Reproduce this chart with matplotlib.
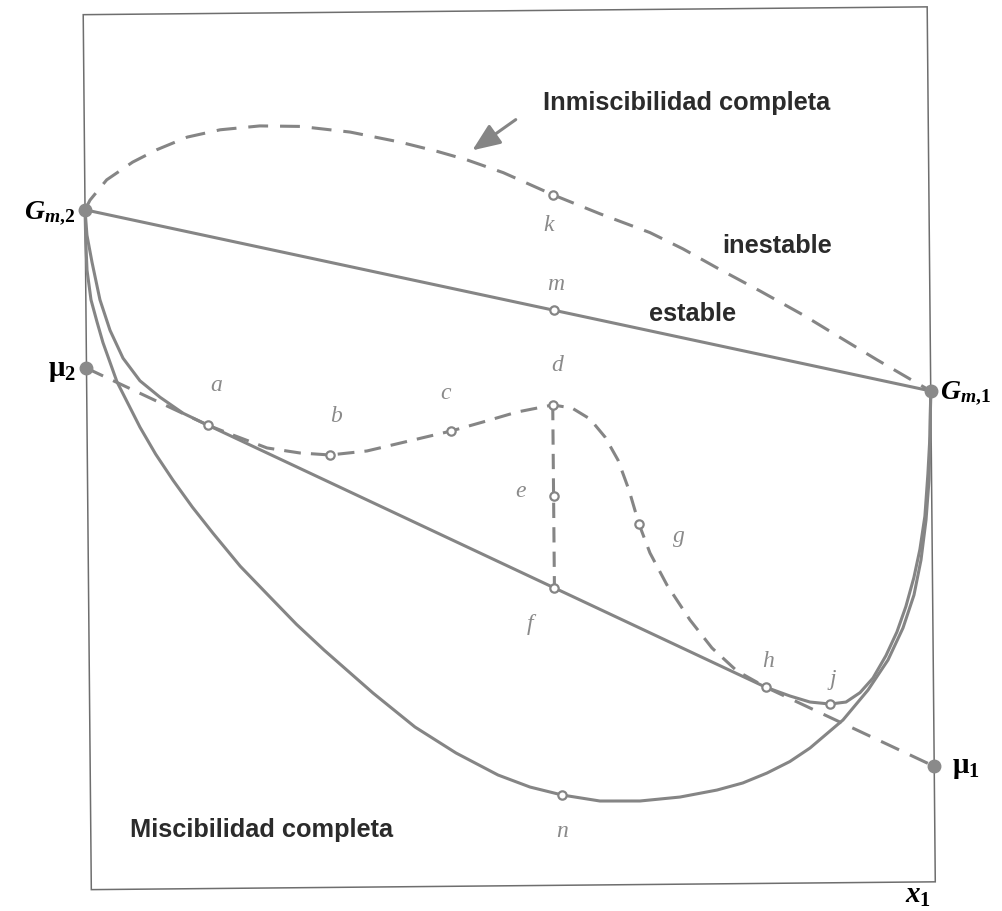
import numpy as np
import matplotlib
matplotlib.use("Agg")
import matplotlib.pyplot as plt
from matplotlib.patches import Rectangle, FancyArrowPatch
from matplotlib.transforms import Affine2D

plt.rcParams["mathtext.fontset"] = "custom"
plt.rcParams["mathtext.it"] = "Liberation Serif:bold:italic"
plt.rcParams["mathtext.rm"] = "Liberation Serif:bold"
plt.rcParams["mathtext.bf"] = "Liberation Serif:bold"

# pure components (x1 = 0 -> G_m,2 ; x1 = 1 -> G_m,1)
x_pure = [0.0, 1.0]
g_pure = [0.777, 0.561]
# chemical potentials = intercepts of the common tangent
mu_pure = [0.596, 0.132]

# "Inmiscibilidad completa" curve (dashed, above the tie line)
inmisc_x = [0.0, 0.006, 0.026, 0.057, 0.086, 0.122, 0.161, 0.208, 0.256, 0.315, 0.374,
            0.418, 0.453, 0.496, 0.555, 0.610, 0.669, 0.708, 0.748, 0.799, 0.850,
            0.890, 0.937, 0.984, 1.0]
inmisc_y = [0.777, 0.788, 0.811, 0.831, 0.845, 0.859, 0.867, 0.871, 0.870, 0.863, 0.851,
            0.840, 0.830, 0.815, 0.789, 0.767, 0.745, 0.726, 0.704, 0.677, 0.649,
            0.625, 0.597, 0.570, 0.561]

# "Miscibilidad completa" curve (solid, lowest)
misc_x = [0.0, 0.0005, 0.0017, 0.0061, 0.0129, 0.0198, 0.0360, 0.0627, 0.0810, 0.1013,
          0.1240, 0.1481, 0.1800, 0.2149, 0.2460, 0.2783, 0.3359, 0.3853, 0.4336, 0.4831,
          0.5209, 0.5587, 0.6036, 0.6510, 0.6985, 0.7424, 0.7730, 0.8018, 0.8290, 0.8530,
          0.8924, 0.9224, 0.9464, 0.9645, 0.9779, 0.9866, 0.9930, 0.9970, 0.9986, 1.0]
misc_y = [0.777, 0.742, 0.708, 0.674, 0.649, 0.625, 0.580, 0.528, 0.497, 0.467,
          0.436, 0.406, 0.368, 0.3325, 0.301, 0.2714, 0.2217, 0.1824, 0.1523, 0.1267,
          0.1126, 0.1032, 0.0959, 0.0955, 0.0996, 0.1072, 0.1150, 0.1261, 0.1390, 0.1542,
          0.1859, 0.2199, 0.2540, 0.2904, 0.3280, 0.3679, 0.4136, 0.4593, 0.5050, 0.561]

# partial miscibility curve: stable branch G_m,2 -> a
part_left_x = [0.0, 0.002, 0.0077, 0.0167, 0.0283, 0.0434, 0.0632, 0.0868, 0.1139, 0.1433]
part_left_y = [0.777, 0.748, 0.717, 0.674, 0.639, 0.607, 0.581, 0.562, 0.5435, 0.5295]
# metastable / unstable part a -> h (dashed)
part_mid_x = [0.1433, 0.1728, 0.2130, 0.2520, 0.2876, 0.3314, 0.3706, 0.4312, 0.4692,
              0.5096, 0.552, 0.5748, 0.5960, 0.6136, 0.6287, 0.6414, 0.6529, 0.6656,
              0.6854, 0.7123, 0.7380, 0.7674, 0.8016]
part_mid_y = [0.5295, 0.518, 0.5029, 0.4968, 0.4942, 0.4984, 0.507, 0.5203, 0.5303,
              0.5413, 0.549, 0.5453, 0.5326, 0.5118, 0.4854, 0.4510, 0.412, 0.3788,
              0.3420, 0.3018, 0.2696, 0.2430, 0.2241]
# stable branch h -> G_m,1
part_right_x = [0.8016, 0.8299, 0.8535, 0.8772, 0.8962, 0.9129, 0.9284, 0.9440, 0.9573,
                0.9682, 0.9780, 0.9854, 0.9917, 0.9957, 0.9986, 1.0]
part_right_y = [0.2241, 0.2139, 0.2068, 0.2043, 0.2064, 0.2170, 0.2335, 0.2590, 0.2860,
                0.3150, 0.3480, 0.3800, 0.418, 0.466, 0.510, 0.561]

# labelled states
pt_names = ["a", "b", "c", "d", "e", "f", "g", "h", "j", "k", "m", "n"]
pt_x = [0.1433, 0.2876, 0.4312, 0.552, 0.552, 0.552, 0.6529, 0.8016, 0.8772, 0.555, 0.555, 0.5587]
pt_y = [0.5295, 0.4942, 0.5203, 0.549, 0.4445, 0.3399, 0.412, 0.2241, 0.2043, 0.789, 0.657, 0.1032]
lab_x = [0.1532, 0.2951, 0.4256, 0.5575, 0.5134, 0.5226, 0.7001, 0.8042, 0.8811, 0.5496, 0.5572, 0.5583]
lab_y = [0.5743, 0.5376, 0.5627, 0.5935, 0.4499, 0.2978, 0.3968, 0.2530, 0.2328, 0.7536, 0.6861, 0.0609]

# arrow pointing at the inmiscibility curve (tail, head)
arrow_x = [0.514, 0.4568]
arrow_y = [0.8773, 0.8390]

region_text = ["Inmiscibilidad completa", "inestable", "estable", "Miscibilidad completa"]
region_x = [0.7144, 0.8195, 0.7192, 0.2028]
region_y = [0.8927, 0.7283, 0.6515, 0.0663]

gray = "#858585"
lw = 2.2

fig = plt.figure(figsize=(10.03, 9.11), dpi=100)
ax = fig.add_axes([87.25 / 1003, 25.25 / 911, 844 / 1003, 875 / 911])
ax.set_autoscale_on(False)
ax.set_xlim(0, 1)
ax.set_ylim(0, 1)
ax.axis("off")

# the scanned frame is tilted by about half a degree
tr = ax.transData + Affine2D().rotate_deg_around(509.25, 462.75, 0.53)

ax.add_patch(Rectangle((0, 0), 1, 1, fill=False, ec="#6e6e6e", lw=1.1,
                       transform=tr, clip_on=False))

kw = dict(color=gray, lw=lw, transform=tr, clip_on=False,
          solid_capstyle="round", solid_joinstyle="round")

# tie line between pure components
ax.plot(x_pure, g_pure, **kw)
# inmiscibility curve
ax.plot(inmisc_x, inmisc_y, dashes=(6.5, 3.9), **kw)
# complete miscibility
ax.plot(misc_x, misc_y, **kw)
# partial miscibility
ax.plot(part_left_x, part_left_y, **kw)
ax.plot(part_mid_x, part_mid_y, dashes=(5.5, 3.3), **kw)
ax.plot(part_right_x, part_right_y, **kw)

# common tangent mu_2 -> mu_1 : dashed outside a..h, solid between
a_x, h_x = pt_x[0], pt_x[7]
seg_l = [x_pure[0], a_x]
seg_m = [a_x, h_x]
seg_r = [h_x, x_pure[1]]
ax.plot(seg_l, np.interp(seg_l, x_pure, mu_pure), dashes=(6.0, 3.6), **kw)
ax.plot(seg_m, np.interp(seg_m, x_pure, mu_pure), **kw)
ax.plot(seg_r, np.interp(seg_r, x_pure, mu_pure), dashes=(6.5, 3.9), **kw)

# vertical d - e - f
ax.plot([pt_x[3], pt_x[5]], [pt_y[3], pt_y[5]], dashes=(5.0, 3.0), **kw)

# arrow
ax.add_patch(FancyArrowPatch((arrow_x[0], arrow_y[0]), (arrow_x[1], arrow_y[1]),
                             arrowstyle="-|>,head_length=0.85,head_width=0.35",
                             mutation_scale=20, lw=2.2, color=gray,
                             transform=tr, clip_on=False))

# markers
ax.plot(pt_x, pt_y, "o", ls="none", ms=6, mfc="white", mec=gray, mew=1.6,
        transform=tr, clip_on=False, zorder=5)
ax.plot(x_pure + x_pure, g_pure + mu_pure, "o", ls="none", ms=9, color="#8a8a8a",
        transform=tr, clip_on=False, zorder=5)

# letters
for name, lx, ly in zip(pt_names, lab_x, lab_y):
    ax.text(lx, ly, name, transform=tr, ha="center", va="center", fontsize=17,
            family="Liberation Serif", style="italic", color="#8a8a8a")

for s, rx, ry in zip(region_text, region_x, region_y):
    ax.text(rx, ry, s, transform=tr, ha="center", va="center", fontsize=18.3,
            family="Liberation Sans", weight="bold", color="#2b2b2b")

# end labels
ax.text(-0.012, 0.7734, r"$G_{m{,}2}$", transform=tr, ha="right", va="center", fontsize=20)
ax.text(1.011, 0.5586, r"$G_{m{,}1}$", transform=tr, ha="left", va="center", fontsize=20)
ax.text(-0.0125, 0.594, "μ$_2$", transform=tr, ha="right", va="center", fontsize=21,
        family="Liberation Serif", weight="bold")
ax.text(1.021, 0.130, "μ$_1$", transform=tr, ha="left", va="center", fontsize=21,
        family="Liberation Serif", weight="bold")
ax.text(0.979, -0.015, r"$x_1$", transform=tr, ha="center", va="center", fontsize=21)

fig.savefig("out.png", dpi=100, facecolor="white")
